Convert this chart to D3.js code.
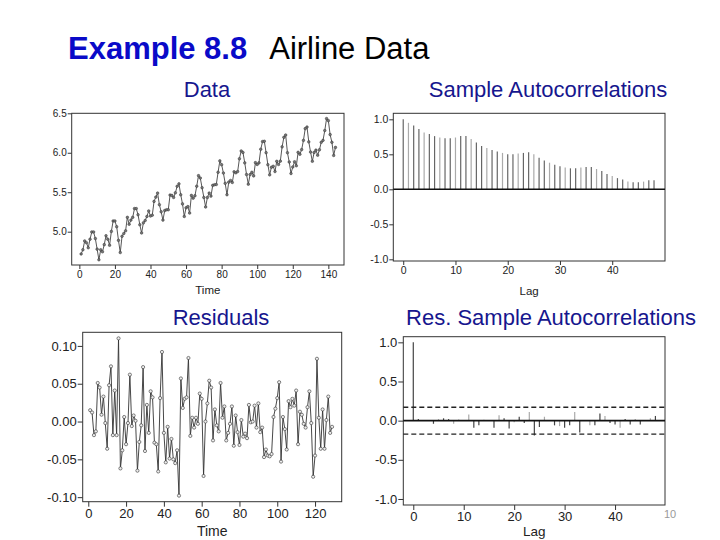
<!DOCTYPE html>
<html>
<head>
<meta charset="utf-8">
<script src="https://cdn.jsdelivr.net/npm/d3@7"></script>
<style>
	body { margin: 0; background: #fff; }
	text { font-family: Arial, "Liberation Sans", sans-serif; }
</style>
</head>
<body>
<div id="chart"></div>
<script>
// log airline passengers, 1949-1960
var logData = [
	4.718, 4.771, 4.883, 4.860, 4.796, 4.905, 4.997, 4.997, 4.913, 4.779, 4.644, 4.771,
	4.745, 4.836, 4.949, 4.905, 4.828, 5.004, 5.136, 5.136, 5.063, 4.890, 4.736, 4.942,
	4.977, 5.011, 5.182, 5.094, 5.147, 5.182, 5.293, 5.293, 5.215, 5.088, 4.984, 5.112,
	5.142, 5.193, 5.263, 5.198, 5.209, 5.384, 5.438, 5.489, 5.342, 5.252, 5.147, 5.268,
	5.278, 5.278, 5.464, 5.460, 5.434, 5.493, 5.576, 5.606, 5.468, 5.352, 5.193, 5.303,
	5.318, 5.236, 5.460, 5.425, 5.455, 5.576, 5.710, 5.680, 5.557, 5.434, 5.313, 5.434,
	5.489, 5.451, 5.587, 5.595, 5.598, 5.753, 5.897, 5.849, 5.743, 5.613, 5.468, 5.628,
	5.649, 5.624, 5.759, 5.746, 5.762, 5.924, 6.023, 6.004, 5.872, 5.724, 5.602, 5.724,
	5.753, 5.707, 5.875, 5.852, 5.872, 6.045, 6.142, 6.146, 6.001, 5.849, 5.720, 5.817,
	5.829, 5.762, 5.892, 5.852, 5.894, 6.075, 6.196, 6.225, 6.001, 5.883, 5.737, 5.820,
	5.886, 5.835, 6.006, 5.981, 6.040, 6.157, 6.306, 6.326, 6.138, 6.009, 5.892, 6.004,
	6.033, 5.969, 6.038, 6.133, 6.157, 6.282, 6.433, 6.407, 6.230, 6.133, 5.966, 6.068
];

// sample ACF of the log data, lags 0..48
var dataAcf = [
	1.00, 0.95, 0.91, 0.86, 0.81, 0.79, 0.76, 0.74, 0.73, 0.73, 0.74, 0.76, 0.76,
	0.72, 0.67, 0.62, 0.59, 0.56, 0.54, 0.52, 0.50, 0.50, 0.51, 0.52, 0.53,
	0.50, 0.45, 0.41, 0.38, 0.35, 0.33, 0.31, 0.30, 0.30, 0.31, 0.32, 0.32,
	0.29, 0.26, 0.22, 0.19, 0.16, 0.14, 0.11, 0.10, 0.10, 0.11, 0.13, 0.13
];

// residuals of the fitted model
var residuals = [
	0.015, 0.012, -0.018, -0.013, 0.051, 0.045, 0.009, 0.033, -0.002, -0.036,
	0.048, 0.073, -0.018, 0.041, -0.018, 0.110, -0.062, -0.038, 0.006, -0.030,
	-0.002, 0.062, -0.006, 0.008, 0.001, -0.065, -0.027, -0.005, 0.072, -0.039,
	0.022, -0.015, 0.040, 0.032, -0.028, -0.030, -0.066, 0.031, 0.092, -0.015,
	-0.054, -0.007, -0.049, -0.023, -0.050, -0.055, -0.038, -0.098, 0.057, 0.018,
	0.030, 0.032, 0.084, -0.019, 0.005, -0.008, 0.005, -0.003, 0.037, 0.030,
	-0.072, 0.000, 0.024, 0.054, 0.045, -0.025, 0.016, -0.005, -0.013, 0.051,
	0.005, 0.020, -0.025, -0.015, -0.003, 0.020, -0.032, 0.008, -0.014, -0.031,
	0.002, -0.020, -0.016, -0.022, 0.022, -0.001, 0.000, 0.021, -0.008, 0.024,
	-0.014, -0.008, -0.047, -0.037, -0.045, -0.046, -0.043, 0.006, 0.017, 0.031,
	0.052, -0.053, 0.006, -0.010, -0.037, 0.027, 0.019, 0.030, 0.021, 0.041,
	-0.030, 0.013, 0.009, -0.003, -0.008, 0.019, 0.040, -0.002, -0.073, -0.045,
	0.083, 0.005, -0.036, 0.016, -0.036, 0.002, 0.033, -0.015, -0.007
];

// sample ACF of residuals, lags 0..48
var resAcf = [
	1.00, 0.02, 0.00, 0.00, -0.04, 0.02, 0.03, 0.02, -0.04, 0.01, 0.00, 0.08, -0.09,
	-0.06, 0.01, 0.00, -0.09, 0.07, 0.03, -0.10, -0.02, 0.05, -0.03, 0.11, -0.19,
	-0.08, 0.05, 0.00, -0.06, -0.07, -0.09, -0.06, 0.11, -0.15, 0.00, -0.06, -0.06,
	0.09, 0.06, -0.03, -0.05, -0.09, 0.02, -0.05, 0.02, -0.05, 0.00, 0.03, 0.06
];
var resBound = 0.171;

var timeTicks1 = [0, 20, 40, 60, 80, 100, 120, 140];
var timeTicks3 = [0, 20, 40, 60, 80, 100, 120];
var lagTicks = [0, 10, 20, 30, 40];
var logTicks = [5.0, 5.5, 6.0, 6.5];
var acfTicks = [-1.0, -0.5, 0.0, 0.5, 1.0];
var resTicks = [-0.10, -0.05, 0.00, 0.05, 0.10];

var svg = d3.select('#chart').append('svg')
	.attr('width', 720)
	.attr('height', 540);

svg.append('rect')
	.attr('width', 720)
	.attr('height', 540)
	.attr('fill', 'white');

function fmt(f) {
	return function(d) { return d3.format(f)(d).replace('\u2212', '-'); };
}

// one plotting panel: frame, axes, axis label
function panel(o) {
	var x = d3.scaleLinear().domain(o.xd).range([o.left, o.right]);
	var y = d3.scaleLinear().domain(o.yd).range([o.bottom, o.top]);
	var g = svg.append('g');

	g.append('g')
		.attr('transform', 'translate(0,' + o.bottom + ')')
		.call(d3.axisBottom(x).tickValues(o.xt).tickFormat(fmt('d')).tickSize(o.tick).tickSizeOuter(0).tickPadding(2))
		.call(function(a) {
			a.select('.domain').remove();
			a.selectAll('line').attr('stroke', '#333');
			a.selectAll('text').attr('font-size', o.fs).attr('fill', '#222')
				.attr('font-family', 'Arial, "Liberation Sans", sans-serif');
		});

	g.append('g')
		.attr('transform', 'translate(' + o.left + ',0)')
		.call(d3.axisLeft(y).tickValues(o.yt).tickFormat(fmt(o.yf)).tickSize(o.tick).tickSizeOuter(0).tickPadding(1))
		.call(function(a) {
			a.select('.domain').remove();
			a.selectAll('line').attr('stroke', '#333');
			a.selectAll('text').attr('font-size', o.fs).attr('fill', '#222')
				.attr('font-family', 'Arial, "Liberation Sans", sans-serif');
		});

	g.append('rect')
		.attr('x', o.left)
		.attr('y', o.top)
		.attr('width', o.right - o.left)
		.attr('height', o.bottom - o.top)
		.attr('fill', 'none')
		.attr('stroke', '#333')
		.attr('stroke-width', 1);

	g.append('text')
		.attr('x', (o.left + o.right) / 2)
		.attr('y', o.labY)
		.attr('text-anchor', 'middle')
		.attr('font-size', o.labFs)
		.attr('fill', '#222')
		.text(o.lab);

	return { x: x, y: y, g: g };
}

// titles
var title = svg.append('text')
	.attr('x', 68)
	.attr('y', 59)
	.attr('font-size', 31);
title.append('tspan')
	.attr('font-weight', 'bold')
	.attr('fill', '#0a0ac8')
	.text('Example 8.8');
title.append('tspan')
	.attr('dx', 22)
	.attr('fill', '#000')
	.text('Airline Data');

var subs = [
	{ t: 'Data', x: 207, y: 97 },
	{ t: 'Sample Autocorrelations', x: 548, y: 97 },
	{ t: 'Residuals', x: 221, y: 325 },
	{ t: 'Res. Sample Autocorrelations', x: 551, y: 325 }
];
svg.selectAll('.sub').data(subs).enter().append('text')
	.attr('class', 'sub')
	.attr('x', function(d) { return d.x; })
	.attr('y', function(d) { return d.y; })
	.attr('text-anchor', 'middle')
	.attr('font-size', 22)
	.attr('fill', '#16168e')
	.text(function(d) { return d.t; });

// panel 1: log data
var p1 = panel({
	left: 71.7, right: 344, top: 113.3, bottom: 265,
	xd: [-4.3, 148.8], yd: [4.578, 6.5],
	xt: timeTicks1, yt: logTicks, yf: '.1f',
	tick: 4, fs: 10, lab: 'Time', labY: 294, labFs: 11.5
});
var line1 = d3.line()
	.x(function(d, i) { return p1.x(i + 1); })
	.y(function(d) { return p1.y(d); });
p1.g.append('path')
	.datum(logData)
	.attr('d', line1)
	.attr('fill', 'none')
	.attr('stroke', '#444')
	.attr('stroke-width', 0.9);
p1.g.selectAll('circle').data(logData).enter().append('circle')
	.attr('cx', function(d, i) { return p1.x(i + 1); })
	.attr('cy', function(d) { return p1.y(d); })
	.attr('r', 1.3)
	.attr('fill', '#777')
	.attr('stroke', '#333')
	.attr('stroke-width', 0.5);

// panel 2: sample ACF
var p2 = panel({
	left: 393.3, right: 665, top: 113.3, bottom: 261,
	xd: [-1.9, 50.1], yd: [-1.024, 1.086],
	xt: lagTicks, yt: acfTicks, yf: '.1f',
	tick: 4, fs: 10.5, lab: 'Lag', labY: 295, labFs: 11.5
});
p2.g.selectAll('.bar').data(dataAcf).enter().append('line')
	.attr('class', 'bar')
	.attr('x1', function(d, i) { return p2.x(i); })
	.attr('x2', function(d, i) { return p2.x(i); })
	.attr('y1', p2.y(0))
	.attr('y2', function(d) { return p2.y(d); })
	.attr('stroke', function(d, i) { return i % 3 == 1 ? '#aaa' : '#666'; })
	.attr('stroke-width', 1.2);
p2.g.append('line')
	.attr('x1', 393.3).attr('x2', 665)
	.attr('y1', p2.y(0)).attr('y2', p2.y(0))
	.attr('stroke', '#111')
	.attr('stroke-width', 1.4);

// panel 3: residuals
var p3 = panel({
	left: 82.7, right: 341.7, top: 332.3, bottom: 501.7,
	xd: [-2.96, 134.1], yd: [-0.106, 0.118],
	xt: timeTicks3, yt: resTicks, yf: '.2f',
	tick: 5, fs: 13, lab: 'Time', labY: 536, labFs: 14
});
var line3 = d3.line()
	.x(function(d, i) { return p3.x(i + 1); })
	.y(function(d) { return p3.y(d); });
p3.g.append('path')
	.datum(residuals)
	.attr('d', line3)
	.attr('fill', 'none')
	.attr('stroke', '#333')
	.attr('stroke-width', 0.9);
p3.g.selectAll('circle').data(residuals).enter().append('circle')
	.attr('cx', function(d, i) { return p3.x(i + 1); })
	.attr('cy', function(d) { return p3.y(d); })
	.attr('r', 1.6)
	.attr('fill', '#eee')
	.attr('stroke', '#333')
	.attr('stroke-width', 0.6);

// panel 4: residual ACF
var p4 = panel({
	left: 403.3, right: 665, top: 336.7, bottom: 505,
	xd: [-1.98, 49.9], yd: [-1.077, 1.072],
	xt: lagTicks, yt: acfTicks, yf: '.1f',
	tick: 5, fs: 13, lab: 'Lag', labY: 536, labFs: 13.5
});
p4.g.selectAll('.bar').data(resAcf).enter().append('line')
	.attr('class', 'bar')
	.attr('x1', function(d, i) { return p4.x(i); })
	.attr('x2', function(d, i) { return p4.x(i); })
	.attr('y1', p4.y(0))
	.attr('y2', function(d) { return p4.y(d); })
	.attr('stroke', function(d, i) { return i % 3 == 2 ? '#aaa' : '#444'; })
	.attr('stroke-width', 1.2);
p4.g.selectAll('.bound').data([resBound, -resBound]).enter().append('line')
	.attr('class', 'bound')
	.attr('x1', 403.3).attr('x2', 665)
	.attr('y1', function(d) { return p4.y(d); })
	.attr('y2', function(d) { return p4.y(d); })
	.attr('stroke', '#222')
	.attr('stroke-width', 1.3)
	.attr('stroke-dasharray', '5,3');
p4.g.append('line')
	.attr('x1', 403.3).attr('x2', 665)
	.attr('y1', p4.y(0)).attr('y2', p4.y(0))
	.attr('stroke', '#111')
	.attr('stroke-width', 1.6);

// slide number
svg.append('text')
	.attr('x', 670)
	.attr('y', 518)
	.attr('text-anchor', 'middle')
	.attr('font-size', 11)
	.attr('fill', '#999')
	.text('10');
</script>
</body>
</html>
